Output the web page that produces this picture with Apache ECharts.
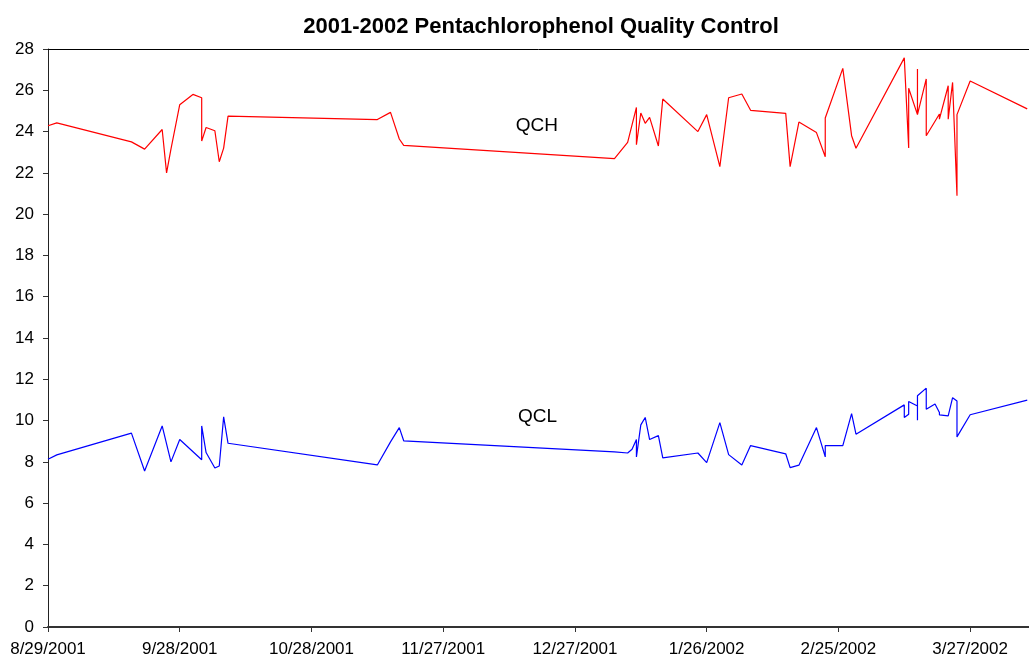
<!DOCTYPE html>
<html>
<head>
<meta charset="utf-8">
<title>2001-2002 Pentachlorophenol Quality Control</title>
<script src="https://cdn.jsdelivr.net/npm/echarts@6/dist/echarts.min.js"></script>
<style>
  html, body { margin: 0; padding: 0; background: #fff; }
  #chart { width: 1029px; height: 669px; }
</style>
</head>
<body>
<div id="chart"></div>
<script>
// QCH (upper control)
const qchDates = [
  '2001-08-29', '2001-08-31', '2001-09-17', '2001-09-20', '2001-09-24', '2001-09-25', '2001-09-26', '2001-09-28',
  '2001-10-01', '2001-10-03', '2001-10-03', '2001-10-04', '2001-10-06', '2001-10-07', '2001-10-08', '2001-10-09',
  '2001-11-12', '2001-11-15', '2001-11-17', '2001-11-18',
  '2002-01-05', '2002-01-08', '2002-01-10', '2002-01-10', '2002-01-11', '2002-01-12', '2002-01-13', '2002-01-15',
  '2002-01-16', '2002-01-24', '2002-01-26', '2002-01-29', '2002-01-31',
  '2002-02-03', '2002-02-05', '2002-02-13', '2002-02-14', '2002-02-16', '2002-02-20', '2002-02-22', '2002-02-22',
  '2002-02-26', '2002-02-28', '2002-03-01',
  '2002-03-12', '2002-03-13', '2002-03-13', '2002-03-15', '2002-03-15', '2002-03-15', '2002-03-17', '2002-03-17',
  '2002-03-20', '2002-03-20', '2002-03-22', '2002-03-22', '2002-03-23', '2002-03-24', '2002-03-24', '2002-03-27',
  '2002-04-09'
]
const qchValues = [
  24.28, 24.42, 23.5, 23.15, 24.1, 22.0, 23.15, 25.3,
  25.8, 25.64, 23.54, 24.2, 24.04, 22.54, 23.2, 24.75,
  24.58, 24.93, 23.64, 23.33,
  22.69, 23.48, 25.17, 23.36, 24.9, 24.4, 24.69, 23.3,
  25.58, 24.0, 24.82, 22.3, 25.64,
  25.82, 25.03, 24.88, 22.3, 24.46, 23.95, 22.78, 24.66,
  27.06, 23.8, 23.19,
  27.57, 23.2, 26.1, 24.82, 27.03, 24.82, 26.55, 23.8,
  24.85, 24.6, 26.22, 24.6, 26.38, 20.89, 24.82, 26.45,
  25.1
]

// QCL (lower control)
const qclDates = [
  '2001-08-29', '2001-08-31', '2001-09-17', '2001-09-20', '2001-09-24', '2001-09-26', '2001-09-28',
  '2001-10-03', '2001-10-03', '2001-10-04', '2001-10-06', '2001-10-07', '2001-10-08', '2001-10-09',
  '2001-11-12', '2001-11-15', '2001-11-17', '2001-11-18',
  '2002-01-05', '2002-01-08', '2002-01-09', '2002-01-10', '2002-01-10', '2002-01-11', '2002-01-12', '2002-01-13',
  '2002-01-15', '2002-01-16', '2002-01-24', '2002-01-26', '2002-01-29', '2002-01-31',
  '2002-02-03', '2002-02-05', '2002-02-13', '2002-02-14', '2002-02-16', '2002-02-20', '2002-02-22', '2002-02-22',
  '2002-02-26', '2002-02-28', '2002-03-01',
  '2002-03-12', '2002-03-12', '2002-03-13', '2002-03-13', '2002-03-15', '2002-03-15', '2002-03-15', '2002-03-17',
  '2002-03-17', '2002-03-19', '2002-03-20', '2002-03-20', '2002-03-22', '2002-03-23', '2002-03-24', '2002-03-24',
  '2002-03-27', '2002-04-09'
]
const qclValues = [
  8.13, 8.34, 9.39, 7.56, 9.74, 8.0, 9.08,
  8.1, 9.74, 8.45, 7.7, 7.8, 10.18, 8.9,
  7.85, 8.97, 9.66, 9.02,
  8.48, 8.43, 8.61, 9.08, 8.24, 9.79, 10.15, 9.08,
  9.27, 8.19, 8.43, 7.96, 9.9, 8.35,
  7.85, 8.79, 8.39, 7.72, 7.84, 9.66, 8.24, 8.79,
  8.79, 10.34, 9.34,
  10.76, 10.15, 10.31, 10.92, 10.71, 10.02, 11.2, 11.57,
  10.55, 10.8, 10.39, 10.28, 10.23, 11.11, 10.95, 9.21,
  10.28, 10.99
]

const startDate = '2001-08-29'
const DAY = 86400000
const X_MAX = 223.4

function toUTC(s) {
  let p = s.split('-')
  return Date.UTC(+p[0], +p[1] - 1, +p[2])
}
// 距起始日的天数
function dayOffset(s) {
  return (toUTC(s) - toUTC(startDate)) / DAY
}
function dayLabel(v) {
  let d = new Date(toUTC(startDate) + v * DAY)
  return (d.getUTCMonth() + 1) + '/' + d.getUTCDate() + '/' + d.getUTCFullYear()
}

const qchData = qchDates.map((d, i) => [dayOffset(d), qchValues[i]])
const qclData = qclDates.map((d, i) => [dayOffset(d), qclValues[i]])

const font = 'Liberation Sans, Arial, sans-serif'

let myChart = echarts.init(document.getElementById('chart'))
myChart.setOption({
  animation: false,
  backgroundColor: '#fff',
  title: {
    text: '2001-2002 Pentachlorophenol Quality Control',
    left: 536,
    top: 11,
    textAlign: 'center',
    textStyle: {
      fontFamily: font,
      fontSize: 22,
      fontWeight: 'bold',
      color: '#000'
    }
  },
  grid: {
    left: 48,
    right: 0,
    top: 49,
    bottom: 42
  },
  xAxis: [
    {
      type: 'value',
      min: 0,
      max: X_MAX,
      interval: 30,
      splitLine: { show: false },
      axisLine: { lineStyle: { color: '#333', width: 2 } },
      axisTick: { show: true, length: 5, inside: false, lineStyle: { color: '#333' } },
      axisLabel: {
        showMaxLabel: false,
        margin: 14,
        fontFamily: font,
        fontSize: 17,
        color: '#000',
        formatter: (v) => (v % 30 === 0 ? dayLabel(v) : '')
      }
    },
    {
      // 顶部边框线
      type: 'value',
      position: 'top',
      min: 0,
      max: X_MAX,
      splitLine: { show: false },
      axisLine: { show: true, lineStyle: { color: '#000', width: 1 } },
      axisTick: { show: false },
      axisLabel: { show: false }
    }
  ],
  yAxis: {
    type: 'value',
    min: 0,
    max: 28,
    interval: 2,
    splitLine: { show: false },
    axisLine: { show: true, lineStyle: { color: '#222', width: 1 } },
    axisTick: { show: true, length: 5, lineStyle: { color: '#333' } },
    axisLabel: {
      margin: 14,
      fontFamily: font,
      fontSize: 17,
      color: '#000'
    }
  },
  series: [
    {
      name: 'QCH',
      type: 'line',
      data: qchData,
      showSymbol: false,
      lineStyle: { color: '#ff0000', width: 1.2 },
      itemStyle: { color: '#ff0000' },
      markPoint: {
        symbol: 'circle',
        symbolSize: 1,
        itemStyle: { color: 'rgba(0,0,0,0)' },
        label: { show: true, position: 'inside', fontFamily: font, fontSize: 19, color: '#000' },
        data: [{ coord: [111.3, 24.3], label: { formatter: 'QCH' } }]
      }
    },
    {
      name: 'QCL',
      type: 'line',
      data: qclData,
      showSymbol: false,
      lineStyle: { color: '#0000ff', width: 1.2 },
      itemStyle: { color: '#0000ff' },
      markPoint: {
        symbol: 'circle',
        symbolSize: 1,
        itemStyle: { color: 'rgba(0,0,0,0)' },
        label: { show: true, position: 'inside', fontFamily: font, fontSize: 19, color: '#000' },
        data: [{ coord: [111.5, 10.2], label: { formatter: 'QCL' } }]
      }
    }
  ]
})
</script>
</body>
</html>
